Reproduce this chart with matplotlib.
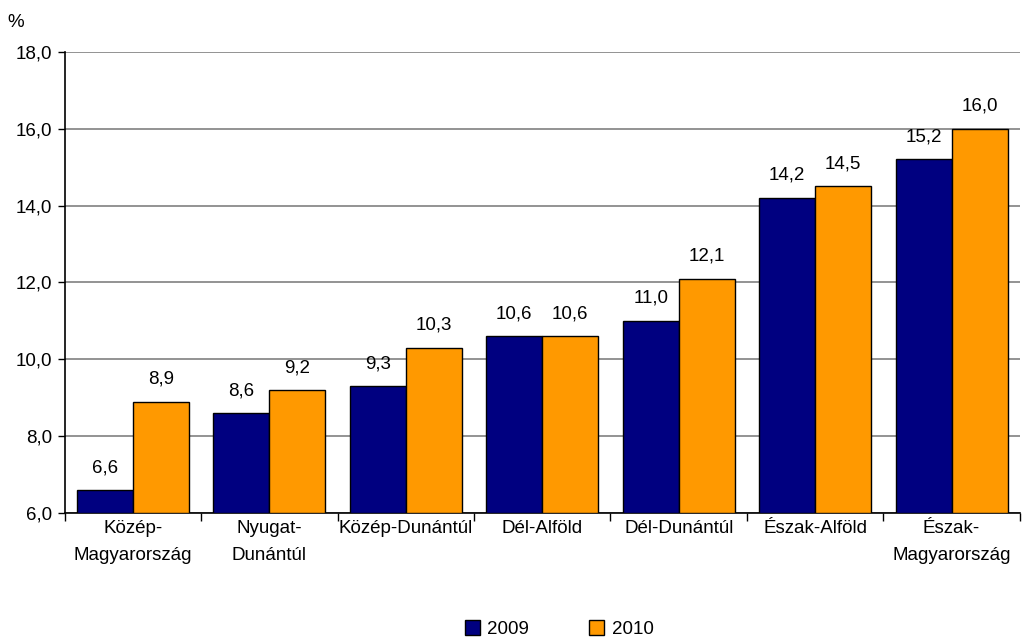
import matplotlib.pyplot as plt
import numpy as np

plt.rcParams['font.family'] = ['Liberation Sans', 'DejaVu Sans']

regions = ['Közép-\nMagyarország', 'Nyugat-\nDunántúl', 'Közép-Dunántúl', 'Dél-Alföld',
           'Dél-Dunántúl', 'Észak-Alföld', 'Észak-\nMagyarország']
v2009 = [6.6, 8.6, 9.3, 10.6, 11.0, 14.2, 15.2]
v2010 = [8.9, 9.2, 10.3, 10.6, 12.1, 14.5, 16.0]
yticks = [6, 8, 10, 12, 14, 16, 18]

fs = 13.5
fig = plt.figure(figsize=(10.26, 6.39), dpi=100)
ax = fig.add_axes([0.063, 0.197, 0.931, 0.722])

x = np.arange(len(regions))
w = 0.41
b1 = ax.bar(x - w/2, [v - 6 for v in v2009], w, bottom=6, color='#000080', edgecolor='black', linewidth=1, label='2009', zorder=3)
b2 = ax.bar(x + w/2, [v - 6 for v in v2010], w, bottom=6, color='#FF9900', edgecolor='black', linewidth=1, label='2010', zorder=3)

for xs, vals in ((x - w/2, v2009), (x + w/2, v2010)):
    for xi, v in zip(xs, vals):
        ax.annotate(('%.1f' % v).replace('.', ','), (xi, v), xytext=(0, 10), textcoords='offset points',
                    ha='center', va='bottom', fontsize=fs)

ax.set_ylim(6, 18)
ax.set_xlim(-0.5, len(regions) - 0.5)
ax.set_yticks(yticks)
ax.set_yticklabels([('%.1f' % t).replace('.', ',') for t in yticks], fontsize=fs)
ax.yaxis.grid(True, color='#808080', linewidth=1.2, zorder=0)
ax.tick_params(axis='y', length=5, width=1, pad=4)

ax.set_xticks(x)
ax.set_xticklabels(regions, fontsize=fs, linespacing=1.8, va='top')
ax.tick_params(axis='x', length=0, pad=5)
ax.set_xticks(np.arange(len(regions) + 1) - 0.5, minor=True)
ax.tick_params(axis='x', which='minor', length=6, width=1)

for s in ('top', 'right'):
    ax.spines[s].set_visible(False)
ax.spines['left'].set_linewidth(1.2)
ax.spines['bottom'].set_linewidth(1.2)

fig.text(0.015, 0.965, '%', fontsize=fs, ha='center', va='center')

fig.legend(handles=[b1, b2], loc='lower center', bbox_to_anchor=(0.545, -0.025), ncol=2, frameon=False,
           fontsize=fs, handlelength=0.8, handleheight=0.8, columnspacing=3.2, handletextpad=0.4)

plt.savefig('out.png')
